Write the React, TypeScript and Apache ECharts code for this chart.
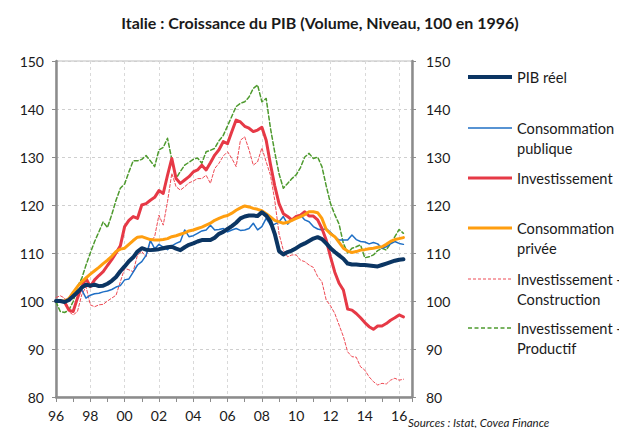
import React, { useEffect, useRef } from "react";
import * as echarts from "echarts";

const startYear = 1996;
const yTicks = [80, 90, 100, 110, 120, 130, 140, 150];

const seriesNames = [
  "PIB réel",
  "Consommation publique",
  "Investissement",
  "Consommation privée",
  "Investissement - Construction",
  "Investissement - Productif",
];

// Quarterly values, 1996Q1 .. 2016Q2
const pibReel = [
  100, 100, 99.8, 100.2,
  101, 101.8, 102.8, 103.4,
  103.2, 103.4, 103.1, 103.2,
  103.6, 104.2, 105, 106.2,
  107.2, 108.3, 109.1, 110.3,
  111, 110.7, 110.6, 110.7,
  110.8, 111, 111.2, 111.3,
  110.9, 110.6, 111.2, 111.7,
  112, 112.4, 112.7, 112.7,
  112.7, 113.2, 114, 114.4,
  115, 115.6, 116.3, 117.2,
  117.6, 117.8, 117.8, 117.7,
  118.5, 117.8, 116.6, 114,
  110.4, 109.7, 110.2, 110.5,
  111, 111.6, 112, 112.5,
  113, 113.3, 112.9, 112,
  111, 110.2, 109.5, 108.8,
  107.8, 107.6, 107.6, 107.5,
  107.5, 107.4, 107.3, 107.2,
  107.5, 107.8, 108.1, 108.4,
  108.6, 108.7,
];

const consoPublique = [
  100, 100, 100, 100.2,
  100.9, 101.4, 102.3, 100.6,
  101.2, 101.5, 101.6, 101.9,
  102.1, 102.4, 102.9, 103.2,
  104.4, 104.6, 106, 107.5,
  108.2, 109.5, 112.6, 110.9,
  111.8, 111.2, 110.7, 111.5,
  112, 112.4, 114.8, 113.4,
  113.6, 114.1, 114.6, 114.8,
  115.8, 114.8, 114.9, 115.1,
  114.4, 114.8, 115.1, 114.7,
  114.8, 115.1, 116.2, 114.8,
  115.5, 117.2, 115.8, 116,
  116.5, 117.6, 116, 117,
  117.2, 117.9, 116.9, 116.5,
  115.5, 115, 114.8, 115.1,
  114.3, 113.4, 112.7, 112.7,
  112.7, 113.75, 112.8, 112.4,
  112.3, 111.9, 112.2, 111.9,
  111, 111.3, 111.9, 112.4,
  112, 111.8,
];

const investissement = [
  100, 100, 99.8, 98.1,
  97.8, 100.6, 103, 104.7,
  103, 104.4, 105.3, 106.1,
  107.4, 108.6, 110, 111.5,
  115.5, 116.8, 117.6, 117.2,
  120, 120.3, 121, 121.6,
  123, 122.4, 126.2, 129.7,
  125.5, 124.5, 125.2, 125.9,
  126.9, 127.3, 128.3, 127.3,
  128.8, 130.4, 131.5, 133.2,
  132.8, 135.3, 137.7, 137.3,
  136.4, 136, 135.3, 135.6,
  136.2, 133.5, 128.5, 124,
  120.3, 118.2, 117.6, 116.9,
  117.6, 117.9, 118.6, 117.7,
  117.7, 116.9, 115.1, 112.7,
  109.2, 106, 103.7, 102.3,
  98.3, 98.1, 97.4, 96.5,
  95.5, 94.65, 94.1, 94.8,
  94.8, 95.3, 96, 96.5,
  97.1, 96.7,
];

const consoPrivee = [
  100, 100, 100, 100.5,
  101.8, 103, 104, 104.8,
  105.6, 106.3, 107, 107.8,
  108.5, 109.3, 110.3, 110.8,
  111, 111.8, 112.6, 113.3,
  113.4, 113.1, 112.8, 112.7,
  112.7, 112.8, 113, 113.4,
  113.6, 113.9, 114.2, 114.6,
  114.8, 115.1, 115.4, 115.8,
  116.2, 116.8, 117.2, 117.6,
  117.8, 118.3, 118.9, 119.4,
  119.8, 119.6, 119.3, 119.1,
  118.8, 118.2, 117.5, 116.8,
  116.5, 116.2, 116.4, 116.8,
  117.2, 117.6, 118, 118.6,
  118.6, 118.4, 117.2, 114.9,
  114, 113.4, 112.2, 111,
  110.4, 110.1, 110.3, 110.6,
  110.7, 110.9, 111, 111.2,
  111.3, 111.8, 112.4, 112.8,
  113, 113.2,
];

const investConstruction = [
  100.7, 101.1, 100.6, 97.8,
  97.1, 97.8, 101.3, 103,
  99.2, 98.8, 99.2, 99.3,
  100, 100.6, 101.2, 104,
  106.8, 106.5, 106.1, 109.6,
  110.3, 109.2, 112.4, 113.4,
  117.9, 115.8, 120.7, 126.6,
  123.8, 123.1, 123.8, 124.6,
  125, 125.5, 125.5, 126.2,
  124.5, 127.6, 128.7, 130.2,
  131.1, 129.7, 128, 133.5,
  134.2, 131.5, 128.3, 129,
  131.9, 129, 126.2, 121,
  114, 110.6, 109.2, 109.6,
  109.6, 108.5, 108.2, 107.5,
  107, 105.1, 104, 100.2,
  99, 97.4, 95, 92.6,
  89.4, 88.4, 88.3, 86.3,
  85.6, 84.2, 83.2, 82.5,
  82.85, 82.7, 83.5, 83.9,
  83.5, 83.7,
];

const investProductif = [
  99.8, 97.8, 97.6, 98.1,
  99.9, 103, 104.7, 107.5,
  110, 112.4, 114.4, 116.5,
  115.3, 118, 121, 123.5,
  124.4, 126.9, 129.2, 129.2,
  129.5, 130.3, 129.2, 128,
  131.5, 132, 133.9, 129.5,
  125.5, 127, 128.3, 128.9,
  129.5, 129.8, 128.7, 131.1,
  131.4, 131.8, 133.4, 134.5,
  136.5, 138.5, 140.5, 141.2,
  141.5, 142.5, 144.3, 145,
  141.5, 142.2, 136, 131,
  126.5, 123.5, 124.5, 125.5,
  126.3, 127.8, 130, 130.75,
  129.7, 130, 128, 124,
  120.3, 118, 116, 112,
  110, 111, 111.3, 111.7,
  109, 109.2, 109.6, 110.5,
  111, 110.6, 112, 113.4,
  114.9, 114.1,
];

const FONT = "Lato, 'Open Sans', sans-serif";

const colors = {
  pib: "#0B3563",
  pub: "#1F6FC5",
  inv: "#E63946",
  priv: "#FF9E0F",
  constr: "#EE4B55",
  prod: "#4E9A2E",
};

function toPoints(values: number[]) {
  return values.map((v, i) => [startYear + i * 0.25, v]);
}

export default function App() {
  const ref = useRef<HTMLDivElement>(null);

  useEffect(() => {
    if (!ref.current) return;
    const chart = echarts.init(ref.current, undefined, { renderer: "svg" });

    const legendItems = [
      { lines: ["PIB réel"], color: colors.pib, width: 4, dash: null as any, y: 77 },
      { lines: ["Consommation", "publique"], color: colors.pub, width: 1.5, dash: null, y: 128 },
      { lines: ["Investissement"], color: colors.inv, width: 3, dash: null, y: 178 },
      { lines: ["Consommation", "privée"], color: colors.priv, width: 3, dash: null, y: 228 },
      { lines: ["Investissement -", "Construction"], color: colors.constr, width: 1, dash: [3, 2], y: 279 },
      { lines: ["Investissement -", "Productif"], color: colors.prod, width: 1.5, dash: [4, 2.5], y: 328 },
    ];

    const graphics: any[] = [];
    legendItems.forEach((it) => {
      graphics.push({
        type: "line",
        shape: { x1: 468, y1: it.y, x2: 512, y2: it.y },
        style: { stroke: it.color, lineWidth: it.width, lineDash: it.dash || undefined },
      });
      it.lines.forEach((t, k) => {
        graphics.push({
          type: "text",
          x: 517,
          y: it.y + k * 20,
          style: {
            text: t,
            fill: "#1a1a1a",
            font: `14.6px ${FONT}`,
            textAlign: "left",
            textVerticalAlign: "middle",
          },
        });
      });
    });
    graphics.push({
      type: "text",
      x: 408,
      y: 422,
      style: {
        text: "Sources : Istat, Covea Finance",
        fill: "#1a1a1a",
        font: `italic 11.5px ${FONT}`,
        textAlign: "left",
        textVerticalAlign: "middle",
      },
    });

    const yAxisBase = {
      type: "value",
      min: yTicks[0],
      max: yTicks[yTicks.length - 1],
      interval: 10,
      axisLine: { show: true, lineStyle: { color: "#8c8c8c", width: 2.5 } },
      axisTick: { show: true, length: 4, lineStyle: { color: "#8c8c8c", width: 1 } },
      axisLabel: { color: "#1a1a1a", fontSize: 14, fontFamily: FONT },
    };

    const lineSeries = (name: string, values: number[], color: string, width: number, type: any, z: number) => ({
      name,
      type: "line",
      data: toPoints(values),
      xAxisIndex: 0,
      yAxisIndex: 0,
      showSymbol: false,
      symbol: "none",
      z,
      lineStyle: { color, width, type, cap: "round", join: "round" },
      itemStyle: { color },
    });

    chart.setOption({
      animation: false,
      textStyle: { fontFamily: FONT },
      title: {
        text: "Italie : Croissance du PIB (Volume, Niveau, 100 en 1996)",
        left: 315,
        top: 9,
        textAlign: "center",
        textStyle: { fontSize: 16, fontWeight: "bold", color: "#1a1a1a", fontFamily: FONT },
      },
      grid: {
        left: 56,
        right: 207,
        top: 61,
        bottom: 31,
        show: true,
        borderColor: "#bdbdbd",
        borderWidth: 1,
        outerBoundsMode: "none",
        containLabel: false,
      },
      xAxis: [
        {
          type: "value",
          min: startYear,
          max: 2016.75,
          interval: 2,
          position: "bottom",
          axisLine: { show: true, lineStyle: { color: "#8c8c8c", width: 2.5 } },
          axisTick: { show: false },
          splitLine: { show: true, lineStyle: { color: "#d9d9d9", type: [3, 3], width: 1 } },
          axisLabel: {
            color: "#1a1a1a",
            fontSize: 14,
            fontFamily: FONT,
            margin: 11,
            showMaxLabel: false,
            formatter: (v: number) =>
              Number.isInteger(v) && v % 2 === 0 ? String(v % 100).padStart(2, "0") : "",
          },
        },
        {
          type: "value",
          min: startYear,
          max: 2016.75,
          interval: 1,
          position: "bottom",
          axisLine: { show: false },
          axisTick: { show: true, length: 5, lineStyle: { color: "#8c8c8c", width: 1 } },
          axisLabel: { show: false },
          splitLine: { show: false },
        },
      ],
      yAxis: [
        {
          ...yAxisBase,
          position: "left",
          splitLine: { show: true, lineStyle: { color: "#cfcfcf", type: [3, 3], width: 1 } },
          axisLabel: { ...yAxisBase.axisLabel, margin: 12 },
        },
        {
          ...yAxisBase,
          position: "right",
          splitLine: { show: false },
          axisLabel: { ...yAxisBase.axisLabel, margin: 14 },
        },
      ],
      series: [
        lineSeries(seriesNames[5], investProductif, colors.prod, 1.5, [4, 2.5], 2),
        lineSeries(seriesNames[4], investConstruction, colors.constr, 1, [3, 2], 3),
        lineSeries(seriesNames[1], consoPublique, colors.pub, 1.5, "solid", 4),
        lineSeries(seriesNames[2], investissement, colors.inv, 3, "solid", 5),
        lineSeries(seriesNames[3], consoPrivee, colors.priv, 3, "solid", 6),
        lineSeries(seriesNames[0], pibReel, colors.pib, 4, "solid", 7),
      ],
      graphic: graphics,
    });

    return () => chart.dispose();
  }, []);

  return (
    <div
      ref={ref}
      style={{ position: "absolute", left: 0, top: 0, width: 619, height: 428 }}
    />
  );
}
